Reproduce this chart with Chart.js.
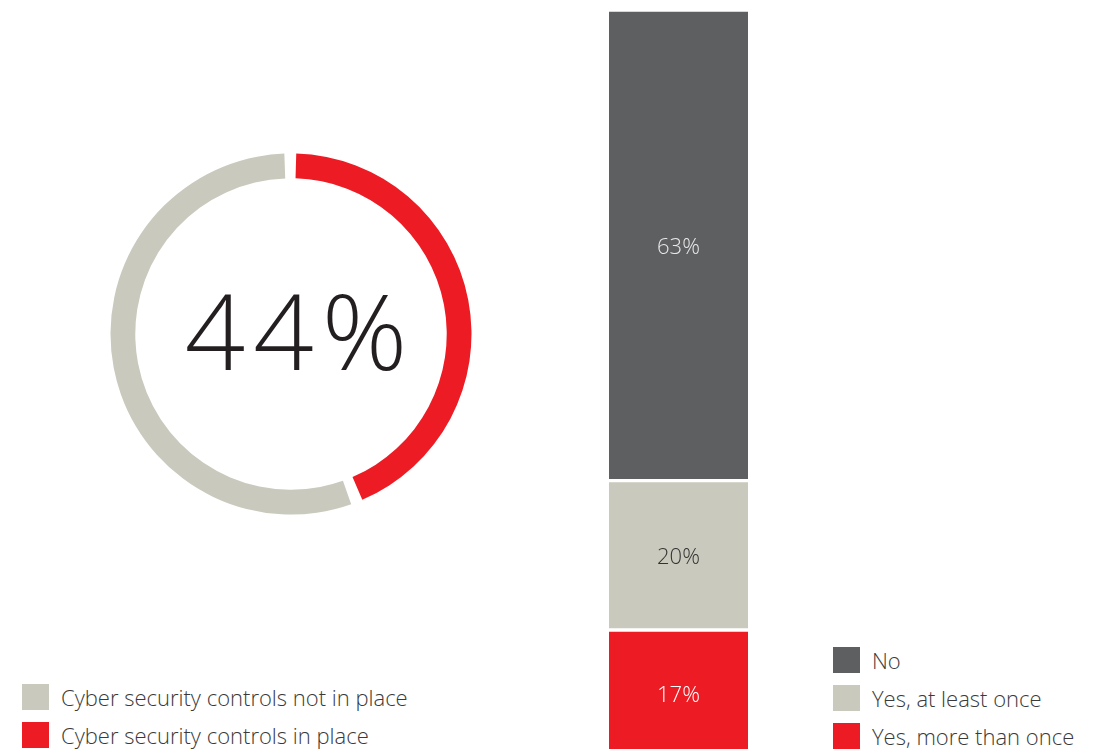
<!DOCTYPE html>
<html>
<head>
<meta charset="utf-8">
<script src="https://cdn.jsdelivr.net/npm/chart.js@4/dist/chart.umd.min.js"></script>
<style>
    html, body {
        margin: 0;
        padding: 0;
        width: 1097px;
        height: 749px;
        overflow: hidden;
        background: #ffffff;
        font-family: "Open Sans", sans-serif;
    }
    #donutChart {
        position: absolute;
        left: 91px;
        top: 134px;
    }
    #barChart {
        position: absolute;
        left: 609px;
        top: 0;
    }
    .legend {
        position: absolute;
        font-size: 22px;
        font-weight: 300;
        color: #3a3a3a;
    }
    .legend .item {
        display: flex;
        align-items: center;
        height: 38px;
    }
    .legend .swatch {
        width: 27px;
        height: 26px;
        margin-right: 12px;
    }
</style>
</head>
<body>
<canvas id="donutChart" width="400" height="400"></canvas>
<canvas id="barChart" width="139" height="757"></canvas>
<div class="legend" id="donutLegend" style="left:22px; top:678px;"></div>
<div class="legend" id="barLegend" style="left:833px; top:641px;"></div>

<script>
// donut data
const donutLabels = ["Cyber security controls in place", "Cyber security controls not in place"];
const donutValues = [44, 56];
const donutColors = ["#ed1c24", "#c9c9bd"];
const donutCenterText = "44%";

// stacked bar data (bottom to top)
const barLabels = ["Yes, more than once", "Yes, at least once", "No"];
const barValues = [17, 20, 63];
const barColors = ["#ed1c24", "#c9c9bd", "#5e5f61"];
const barTextColors = ["#ffffff", "#333333", "#e8e8e8"];

const centerText = {
    id: "centerText",
    afterDraw(chart) {
        const meta = chart.getDatasetMeta(0);
        const arc = meta.data[0];
        const ctx = chart.ctx;
        ctx.save();
        ctx.font = "300 106px 'Open Sans'";
        ctx.letterSpacing = "8px";
        ctx.fillStyle = "#231f20";
        ctx.textAlign = "center";
        ctx.textBaseline = "middle";
        ctx.fillText(donutCenterText, arc.x + 9, arc.y + 6);
        ctx.restore();
    },
};

new Chart(document.getElementById("donutChart"), {
    type: "doughnut",
    data: {
        labels: donutLabels,
        datasets: [
            {
                data: donutValues,
                backgroundColor: donutColors,
                borderWidth: 0,
                spacing: 7,
            },
        ],
    },
    options: {
        responsive: false,
        animation: false,
        radius: 177,
        cutout: "86%",
        plugins: {
            legend: { display: false },
            tooltip: { enabled: false },
        },
    },
    plugins: [centerText],
});

const barText = {
    id: "barText",
    afterDatasetsDraw(chart) {
        const ctx = chart.ctx;
        ctx.save();
        ctx.font = "300 22px 'Open Sans'";
        ctx.textAlign = "center";
        ctx.textBaseline = "middle";
        chart.data.datasets.forEach((ds, i) => {
            const bar = chart.getDatasetMeta(i).data[0];
            ctx.fillStyle = barTextColors[i];
            ctx.fillText(ds.data[0] + "%", bar.x, (bar.y + bar.base) / 2 + 2);
        });
        ctx.restore();
    },
};

new Chart(document.getElementById("barChart"), {
    type: "bar",
    data: {
        labels: [""],
        datasets: barLabels.map((label, i) => ({
            label: label,
            data: [barValues[i]],
            backgroundColor: barColors[i],
            borderColor: "#ffffff",
            borderWidth: { top: 2, bottom: 2, left: 0, right: 0 },
            borderSkipped: false,
            barPercentage: 1,
            categoryPercentage: 1,
        })),
    },
    options: {
        responsive: false,
        animation: false,
        layout: { padding: { top: 10, bottom: 0, left: 0, right: 0 } },
        scales: {
            x: { stacked: true, display: false },
            y: { stacked: true, display: false, min: 0, max: 100 },
        },
        plugins: {
            legend: { display: false },
            tooltip: { enabled: false },
        },
    },
    plugins: [barText],
});

// html legends
function buildLegend(id, labels, colors) {
    const box = document.getElementById(id);
    labels.forEach((label, i) => {
        const item = document.createElement("div");
        item.className = "item";
        item.innerHTML = '<span class="swatch" style="background:' + colors[i] + '"></span>' + label;
        box.appendChild(item);
    });
}
buildLegend("donutLegend", [donutLabels[1], donutLabels[0]], [donutColors[1], donutColors[0]]);
buildLegend("barLegend", barLabels.slice().reverse(), barColors.slice().reverse());
</script>
</body>
</html>
